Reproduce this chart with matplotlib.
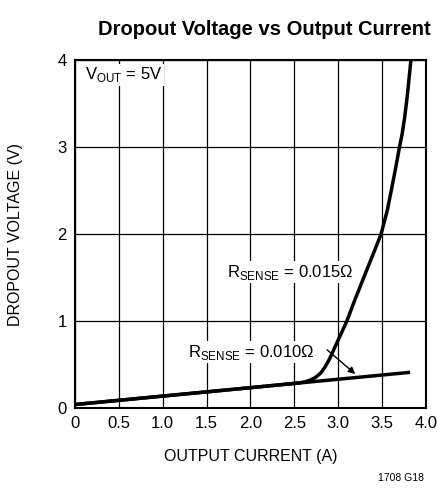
import matplotlib
matplotlib.use('Agg')
import matplotlib.pyplot as plt

plt.rcParams['font.family'] = ['Liberation Sans', 'DejaVu Sans']

# R_SENSE = 0.010 ohm (straight line)
i_010 = [0.0, 3.82]
v_010 = [0.04, 0.41]

# R_SENSE = 0.015 ohm
i_015 = [0.0, 1.0, 2.0, 2.5, 2.56, 2.62, 2.68, 2.74, 2.8, 2.85, 2.9, 2.95, 3.0, 3.05,
         3.1, 3.19, 3.3, 3.4, 3.49, 3.56, 3.61, 3.66, 3.70, 3.73, 3.76, 3.79, 3.81, 3.83]
v_015 = [0.04, 0.137, 0.234, 0.283, 0.29, 0.30, 0.32, 0.35, 0.40, 0.47, 0.56, 0.67, 0.78, 0.89,
         1.0, 1.24, 1.52, 1.77, 2.0, 2.27, 2.52, 2.78, 3.0, 3.15, 3.35, 3.6, 3.8, 4.0]

xticks = [0, 0.5, 1.0, 1.5, 2.0, 2.5, 3.0, 3.5, 4.0]
xtick_labels = ['0', '0.5', '1.0', '1.5', '2.0', '2.5', '3.0', '3.5', '4.0']
yticks = [0, 1, 2, 3, 4]

fig = plt.figure(figsize=(4.38, 4.96), dpi=100)
ax = fig.add_axes([0.1712, 0.1774, 0.801, 0.7016])

ax.plot(i_015, v_015, color='black', lw=2.5, solid_capstyle='butt', solid_joinstyle='round')
ax.plot(i_010, v_010, color='black', lw=2.5, solid_capstyle='butt')

ax.set_xlim(0, 4)
ax.set_ylim(0, 4)
ax.set_xticks(xticks)
ax.set_xticklabels(xtick_labels)
ax.set_yticks(yticks)
ax.grid(True, color='black', lw=0.9)
ax.tick_params(length=0, labelsize=12, pad=6)
for s in ax.spines.values():
    s.set_linewidth(1.5)

ax.set_xlabel('OUTPUT CURRENT (A)', fontsize=11.5)
ax.set_ylabel('DROPOUT VOLTAGE (V)', fontsize=11.5)
ax.xaxis.set_label_coords(0.5, -0.118)
ax.yaxis.set_label_coords(-0.148, 0.5)

ax.text(0.11, 3.83, r'V$_{\mathregular{OUT}}$ = 5V', fontsize=12, va='center', ha='left',
        bbox=dict(facecolor='white', edgecolor='none', pad=1))
ax.text(1.73, 1.56, r'R$_{\mathregular{SENSE}}$ = 0.015$\mathregular{\Omega}$', fontsize=12,
        va='center', ha='left', bbox=dict(facecolor='white', edgecolor='none', pad=1))
ax.text(1.29, 0.64, r'R$_{\mathregular{SENSE}}$ = 0.010$\mathregular{\Omega}$', fontsize=12,
        va='center', ha='left', bbox=dict(facecolor='white', edgecolor='none', pad=1))
ax.annotate('', xy=(3.22, 0.37), xytext=(2.85, 0.69),
            arrowprops=dict(arrowstyle='-|>', color='black', lw=1, mutation_scale=10))

fig.text(0.603, 0.94, 'Dropout Voltage vs Output Current', fontsize=14.5, fontweight='bold',
         ha='center', va='center')
fig.text(0.915, 0.036, '1708 G18', fontsize=7.5, ha='center', va='center')

fig.savefig('out.png', dpi=100)
